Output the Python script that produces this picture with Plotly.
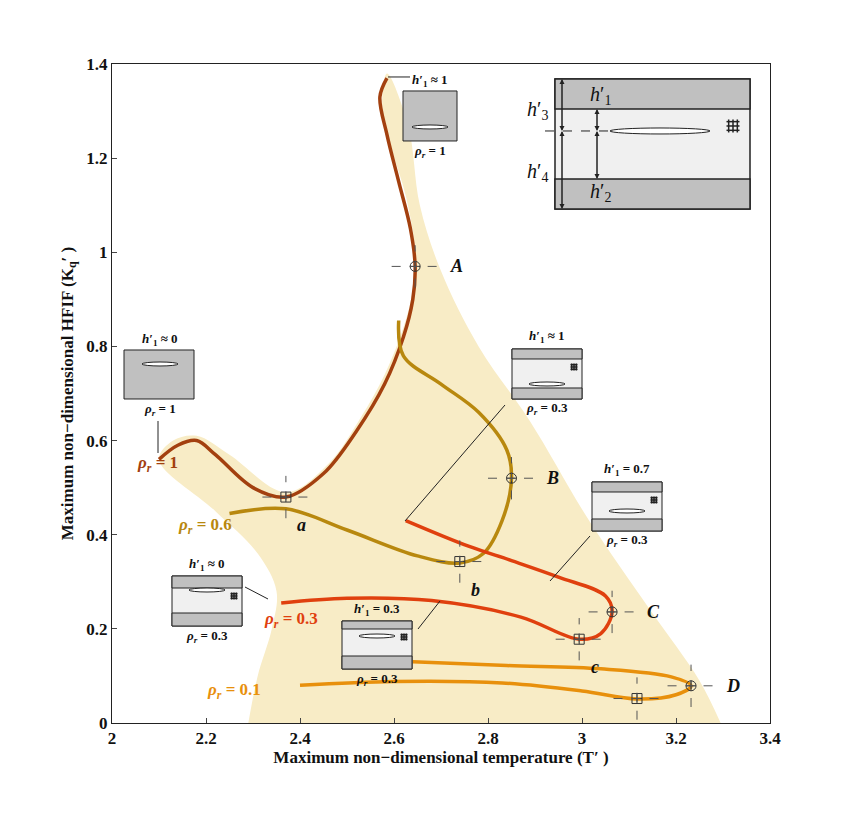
import plotly.graph_objects as go

# ---- data ----
r1_x = [2.10, 2.14, 2.18, 2.22, 2.30, 2.37, 2.45, 2.52, 2.58, 2.62, 2.64, 2.645, 2.635, 2.61, 2.585, 2.57, 2.585]
r1_y = [0.56, 0.59, 0.60, 0.57, 0.50, 0.48, 0.53, 0.62, 0.72, 0.82, 0.90, 0.97, 1.05, 1.15, 1.25, 1.33, 1.37]
r06_x = [2.25, 2.37, 2.50, 2.65, 2.74, 2.79, 2.83, 2.85, 2.84, 2.78, 2.70, 2.62, 2.61]
r06_y = [0.445, 0.455, 0.41, 0.355, 0.34, 0.36, 0.43, 0.52, 0.58, 0.66, 0.72, 0.78, 0.855]
r03_x = [2.36, 2.50, 2.68, 2.87, 2.994, 3.04, 3.064, 3.05, 2.95, 2.85, 2.76, 2.625]
r03_y = [0.255, 0.265, 0.26, 0.225, 0.178, 0.19, 0.236, 0.27, 0.31, 0.345, 0.375, 0.43]
r01_x = [2.40, 2.60, 2.83, 3.00, 3.117, 3.20, 3.232, 3.19, 3.04, 2.84, 2.64]
r01_y = [0.080, 0.088, 0.085, 0.068, 0.051, 0.060, 0.079, 0.098, 0.115, 0.122, 0.130]
region_x = [2.29, 2.31, 2.34, 2.35, 2.31, 2.22, 2.10, 2.13, 2.18, 2.25, 2.37, 2.46, 2.53, 2.58, 2.62, 2.64, 2.645,
            2.625, 2.595, 2.575, 2.585, 2.63, 2.655, 2.70, 2.78, 2.89, 3.015, 3.145, 3.25, 3.295]
region_y = [0.0, 0.10, 0.20, 0.28, 0.36, 0.45, 0.56, 0.60, 0.61, 0.57, 0.49, 0.55, 0.65, 0.74, 0.84, 0.92, 1.00,
            1.12, 1.22, 1.31, 1.38, 1.27, 1.10, 0.96, 0.80, 0.64, 0.43, 0.24, 0.09, 0.0]
circ_pts = {"A": (2.645, 0.97), "B": (2.85, 0.52), "C": (3.064, 0.236), "D": (3.232, 0.079)}
sq_pts = {"a": (2.37, 0.48), "b": (2.74, 0.343), "c": (2.994, 0.178), "d": (3.117, 0.052)}

C1, C06, C03, C01 = "#a3400f", "#b8880e", "#e0400e", "#e8900c"
FONT = "Liberation Serif"

def px(x):
    return 2 + (x - 112) / 470.0
def py(y):
    return (722 - y) / 470.7

fig = go.Figure()
fig.add_trace(go.Scatter(x=region_x, y=region_y, fill="toself", fillcolor="#f8ecc6",
                         line=dict(width=0), mode="lines", line_shape="spline", hoverinfo="skip"))
for xs, ys, c in [(r1_x, r1_y, C1), (r06_x, r06_y, C06), (r03_x, r03_y, C03), (r01_x, r01_y, C01)]:
    fig.add_trace(go.Scatter(x=xs, y=ys, mode="lines", line=dict(color=c, width=3.5, shape="spline", smoothing=1)))

shapes, ann = [], []
def seg(x0, y0, x1, y1, dash="dash", color="#555", w=1):
    shapes.append(dict(type="line", x0=x0, y0=y0, x1=x1, y1=y1, xref="x", yref="y",
                       line=dict(color=color, width=w, dash=dash)))

for d, sym in [(circ_pts, "circle-cross-open"), (sq_pts, "square-cross-open")]:
    fig.add_trace(go.Scatter(x=[v[0] for v in d.values()], y=[v[1] for v in d.values()], mode="markers",
                             marker=dict(symbol=sym, size=10, color="#333", line=dict(width=1))))
for k, (x, y) in circ_pts.items():
    seg(x - 0.05, y, x + 0.05, y); seg(x, y - 0.045, x, y + 0.045)
    ann.append(dict(x=x + 0.07, y=y, text="<b><i>" + k + "</i></b>", showarrow=False, xanchor="left",
                    font=dict(size=18, family=FONT, color="#111")))
for k, (x, y) in sq_pts.items():
    seg(x - 0.05, y, x + 0.05, y); seg(x, y - 0.045, x, y + 0.045)
    ann.append(dict(x=x + 0.02, y=y - 0.06, text="<b><i>" + k + "</i></b>", showarrow=False, xanchor="left",
                    font=dict(size=18, family=FONT, color="#111")))

for t, x, y, c in [("1", 135, 463, C1), ("0.6", 176, 525, C06),
                   ("0.3", 262, 619, C03), ("0.1", 205, 690, C01)]:
    ann.append(dict(x=px(x), y=py(y), text="<b><i>ρ<sub>r</sub></i> = " + t + "</b>", showarrow=False,
                    xanchor="left", font=dict(size=17, family=FONT, color=c)))

def rect(x0, y0, x1, y1, fill, lw=1):
    shapes.append(dict(type="rect", x0=px(x0), x1=px(x1), y0=py(y0), y1=py(y1), xref="x", yref="y",
                       fillcolor=fill, line=dict(color="#222", width=lw)))
def ell(cx, cy, w, h=4):
    shapes.append(dict(type="circle", x0=px(cx - w / 2), x1=px(cx + w / 2), y0=py(cy - h / 2), y1=py(cy + h / 2),
                       xref="x", yref="y", fillcolor="white", line=dict(color="#222", width=1)))
def grid(cx, cy, s=8):
    for i in (-1, 0, 1):
        seg(px(cx + i * s / 3), py(cy - s / 2), px(cx + i * s / 3), py(cy + s / 2), dash="solid", color="#222", w=1.5)
        seg(px(cx - s / 2), py(cy + i * s / 3), px(cx + s / 2), py(cy + i * s / 3), dash="solid", color="#222", w=1.5)
def lab(x, y, t, size=13):
    ann.append(dict(x=px(x), y=py(y), text=t, showarrow=False, font=dict(size=size, family=FONT, color="#111")))
def lead(x0, y0, x1, y1):
    seg(px(x0), py(y0), px(x1), py(y1), dash="solid", color="#222", w=1)

# inset boxes
rect(403, 90, 457, 140, "#c0c0c0"); ell(430, 126, 36)
lab(430, 80, "<b><i>h</i>′<sub>1</sub> ≈ 1</b>"); lab(430, 151, "<b><i>ρ<sub>r</sub></i> = 1</b>"); lead(388, 76, 410, 76)
rect(124, 349, 194, 398, "#c0c0c0"); ell(160, 363, 36)
lab(160, 339, "<b><i>h</i>′<sub>1</sub> ≈ 0</b>"); lab(160, 409, "<b><i>ρ<sub>r</sub></i> = 1</b>"); lead(158, 452, 158, 420)
for (x0, y0, x1, y1, b1, b2, ey, t, tl) in [
        (512, 348, 582, 398, 358, 387, 383, "≈ 1", (405, 520, 505, 404)),
        (592, 481, 662, 530, 491, 518, 510, "= 0.7", (550, 580, 590, 535)),
        (172, 575, 242, 625, 587, 612, 589, "≈ 0", (268, 598, 245, 586)),
        (342, 620, 412, 668, 628, 655, 635, "= 0.3", (418, 628, 440, 600))]:
    rect(x0, y0, x1, y1, "#f0f0f0")
    rect(x0, y0, x1, b1, "#c0c0c0"); rect(x0, b2, x1, y1, "#c0c0c0")
    ell((x0 + x1) / 2, ey, 36); grid(x1 - 8, b1 + 8, 7)
    lab((x0 + x1) / 2, y0 - 12, "<b><i>h</i>′<sub>1</sub> " + t + "</b>")
    lab((x0 + x1) / 2, y1 + 10, "<b><i>ρ<sub>r</sub></i> = 0.3</b>")
    lead(*tl)

# top-right schematic
rect(555, 78, 750, 208, "#f0f0f0", 1.5)
rect(555, 78, 750, 108, "#c0c0c0", 1.5); rect(555, 178, 750, 208, "#c0c0c0", 1.5)
ell(660, 130, 100, 6); grid(733, 125, 13)
seg(px(545), py(130), px(610), py(130), dash="dash", color="#222")
for (xx, a, b) in [(562, 78, 130), (562, 130, 208), (597, 108, 130), (597, 130, 178)]:
    ann.append(dict(x=px(xx), y=py(a), ax=px(xx), ay=py(b), xref="x", yref="y", axref="x", ayref="y",
                    text="", showarrow=True, arrowhead=2, arrowsize=1, arrowwidth=1, arrowcolor="#222"))
    ann.append(dict(x=px(xx), y=py(b), ax=px(xx), ay=py(a), xref="x", yref="y", axref="x", ayref="y",
                    text="", showarrow=True, arrowhead=2, arrowsize=1, arrowwidth=1, arrowcolor="#222"))
lab(537, 110, "<i>h</i>′<sub>3</sub>", 20); lab(537, 172, "<i>h</i>′<sub>4</sub>", 20)
lab(600, 95, "<i>h</i>′<sub>1</sub>", 20); lab(600, 192, "<i>h</i>′<sub>2</sub>", 20)

fig.update_layout(width=850, height=813, showlegend=False, plot_bgcolor="white", paper_bgcolor="white",
                  margin=dict(l=104, r=88, t=56, b=98), shapes=shapes, annotations=ann,
                  font=dict(family=FONT, size=16, color="#111"))
ax = dict(showgrid=False, zeroline=False, showline=True, linecolor="#222", mirror=True, ticks="inside",
          ticklen=5, tickfont=dict(family=FONT, size=17, weight="bold"))
fig.update_xaxes(range=[2, 3.4], dtick=0.2, title=dict(text="<b>Maximum non−dimensional temperature (T′ )</b>",
                 standoff=2, font=dict(size=17)), **ax)
fig.update_yaxes(range=[0, 1.4], dtick=0.2, title=dict(text="<b>Maximum non−dimensional HFIF (K<sub>q</sub>′ )</b>",
                 standoff=8, font=dict(size=17)), **ax)
fig.write_html("out.html")
